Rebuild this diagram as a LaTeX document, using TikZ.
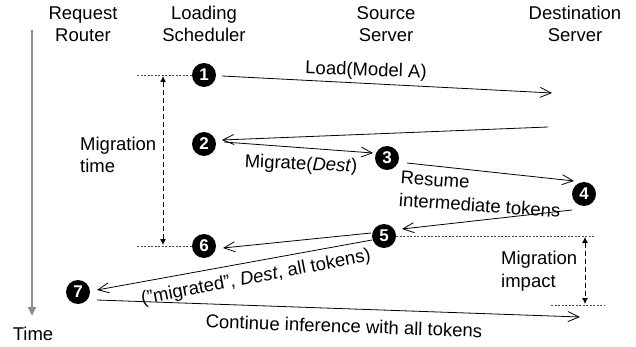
\documentclass[tikz,border=0pt]{standalone}
\usepackage{fontspec}
\setmainfont{Liberation Sans}
\usetikzlibrary{arrows.meta,calc}
\begin{document}
\begin{tikzpicture}[x=1pt,y=-1pt,
  every node/.style={font=\fontsize{18.5}{22.5}\selectfont},
  num/.style={circle,fill=black,text=white,inner sep=0pt,minimum size=24pt,font=\fontsize{17}{17}\selectfont\bfseries},
  hdr/.style={align=center,inner sep=0pt},
  lbl/.style={inner sep=0pt},
  msg/.style={line width=0.8pt,-{Straight Barb[length=11pt,width=10pt]}},
  guide/.style={line width=0.7pt,black!70,dash pattern=on 2pt off 1.5pt},
  span/.style={line width=0.8pt,dash pattern=on 5pt off 3pt,{Latex[length=6pt,width=6pt]}-{Latex[length=6pt,width=6pt]}},
  timeax/.style={line width=2.6pt,black!45,-{Triangle[length=9pt,width=8pt]}}]
\useasboundingbox (0,0) rectangle (636,347);
% headers
\node[hdr] (hr) at (83,24) {Request\\Router};
\node[hdr] (hl) at (204,24) {Loading\\Scheduler};
\node[hdr] (hs) at (386,24) {Source\\Server};
\node[hdr] (hd) at (575,24) {Destination\\Server};
% time axis
\coordinate (t0) at (32,30);
\coordinate (t1) at (32,316);
\draw[timeax] (t0) -- (t1);
\node[lbl] (time) at (33,334) {Time};
% numbered steps
\node[num] (n1) at (204,75) {1};
\node[num] (n2) at (204,144) {2};
\node[num] (n3) at (387,158) {3};
\node[num] (n4) at (584,194) {4};
\node[num] (n5) at (384,236) {5};
\node[num] (n6) at (204,246) {6};
\node[num] (n7) at (78,292) {7};
% free ends
\coordinate (d1) at (552,93);
\coordinate (s2) at (548,127);
\coordinate (e7) at (580,317);
% messages
\draw[msg] ($(n1)+(18,1)$) -- (d1);
\node[lbl,rotate=-2] (l1) at (366,71) {Load(Model A)};
\draw[msg] (s2) -- ($(n2)+(18,-4)$);
\draw[msg] ($(n2)+(20,-2)$) -- ($(n3)+(-14,-5)$);
\node[lbl,rotate=-2.5] (l2) at (301,165) {Migrate(\textit{Dest})};
\draw[msg] ($(n3)+(20,5)$) -- ($(n4)+(-10,-13)$);
\node[lbl,rotate=-4,align=left,anchor=north west] (l3) at (401,171) {Resume\\intermediate tokens};
\draw[msg] ($(n4)+(-12,16)$) -- ($(n5)+(18,-7)$);
\draw[msg] ($(n5)+(-13,-3)$) -- ($(n6)+(19,2)$);
\draw[msg] ($(n5)+(-12,4)$) -- ($(n7)+(19,-2)$);
\node[lbl,rotate=11] (l5) at (256,278) {(\symbol{34}migrated\symbol{34}, \textit{Dest}, all tokens)};
\draw[msg] ($(n7)+(19,8)$) -- (e7);
\node[lbl,rotate=-2] (l7) at (344,326) {Continue inference with all tokens};
% migration time
\coordinate (mt0) at (137,75);
\coordinate (mt1) at (137,246);
\draw[guide] (mt0) -- (n1.west);
\draw[guide] (mt1) -- (n6.west);
\coordinate (mta) at (163,76);
\coordinate (mtb) at (163,245);
\draw[span] (mta) -- (mtb);
\node[lbl,align=left,anchor=west] (lmt) at (80,155) {Migration\\time};
% migration impact
\coordinate (mi0) at (595,236);
\coordinate (mi1) at (551,305);
\coordinate (mi2) at (604,305);
\draw[guide] (n5.east) -- (mi0);
\draw[guide] (mi1) -- (mi2);
\coordinate (mia) at (585,237);
\coordinate (mib) at (585,304);
\draw[span] (mia) -- (mib);
\node[lbl,align=left,anchor=west] (lmi) at (501,271) {Migration\\impact};
\end{tikzpicture}
\end{document}
